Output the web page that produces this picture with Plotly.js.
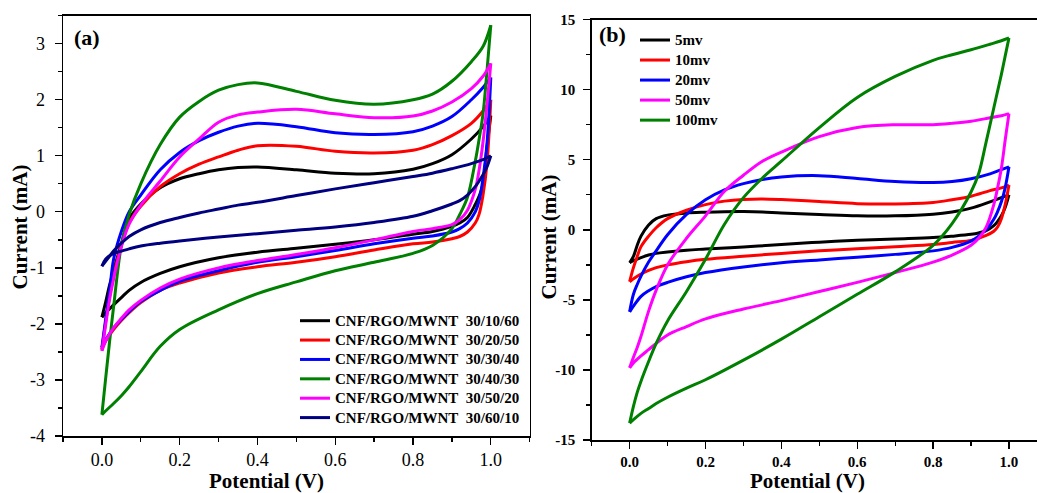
<!DOCTYPE html>
<html><head><meta charset="utf-8">
<script src="https://cdn.plot.ly/plotly-3.0.1.min.js"></script>
<style>html,body{margin:0;padding:0;overflow:hidden;background:#fff}#chart{width:1060px;height:493px}</style>
</head><body><div id="chart"></div>
<script>
// Potential grids (V): forward sweep 0 -> 1 V, reverse sweep 1 -> 0 V
const potentialFwd = [0, 0.01, 0.02, 0.03, 0.05, 0.07, 0.1, 0.15, 0.2, 0.25, 0.3, 0.35, 0.4, 0.5, 0.6, 0.7, 0.8, 0.85, 0.9, 0.95, 0.98, 1.0];
const potentialRev = [1.0, 0.99, 0.98, 0.97, 0.96, 0.94, 0.92, 0.9, 0.85, 0.8, 0.7, 0.6, 0.5, 0.4, 0.3, 0.2, 0.15, 0.1, 0.07, 0.05, 0.03, 0.01, 0];

// Panel (a): composition series (current, mA)
const namesA = ["CNF/RGO/MWNT\u00a0 30/10/60", "CNF/RGO/MWNT\u00a0 30/20/50", "CNF/RGO/MWNT\u00a0 30/30/40",
                "CNF/RGO/MWNT\u00a0 30/40/30", "CNF/RGO/MWNT\u00a0 30/50/20", "CNF/RGO/MWNT\u00a0 30/60/10"];
const fwd301060 = [-1.88,-1.6,-1.3,-1.05,-0.57,-0.13,0.14,0.43,0.59,0.68,0.75,0.79,0.80,0.75,0.69,0.68,0.76,0.86,1.02,1.3,1.52,1.72];
const rev301060 = [1.72,1.15,0.5,0.28,0.13,-0.1,-0.2,-0.26,-0.35,-0.4,-0.5,-0.58,-0.65,-0.72,-0.82,-0.98,-1.1,-1.26,-1.4,-1.53,-1.66,-1.8,-1.88];
const fwd302050 = [-2.45,-1.95,-1.5,-1.15,-0.6,-0.2,0.1,0.45,0.68,0.85,0.98,1.1,1.18,1.17,1.08,1.05,1.1,1.2,1.36,1.58,1.8,2.0];
const rev302050 = [2.0,0.85,0.3,-0.04,-0.2,-0.36,-0.44,-0.48,-0.54,-0.57,-0.68,-0.8,-0.9,-0.98,-1.09,-1.27,-1.4,-1.62,-1.8,-1.94,-2.1,-2.3,-2.45];
const fwd303040 = [-2.42,-1.9,-1.4,-0.85,-0.35,0.0,0.3,0.75,1.06,1.27,1.42,1.53,1.58,1.52,1.41,1.38,1.43,1.53,1.7,2.0,2.22,2.4];
const rev303040 = [2.4,1.2,0.6,0.2,0.0,-0.2,-0.3,-0.36,-0.43,-0.47,-0.57,-0.69,-0.8,-0.9,-1.05,-1.24,-1.4,-1.6,-1.78,-1.92,-2.07,-2.28,-2.42];
const fwd304030 = [-3.62,-2.95,-2.3,-1.7,-0.6,-0.05,0.5,1.2,1.69,1.97,2.17,2.27,2.3,2.15,1.99,1.92,2.0,2.1,2.33,2.68,2.95,3.33];
const rev304030 = [3.33,2.5,1.75,1.3,0.9,0.26,-0.05,-0.3,-0.6,-0.74,-0.9,-1.05,-1.25,-1.46,-1.75,-2.1,-2.4,-2.85,-3.12,-3.28,-3.42,-3.55,-3.62];
const fwd305020 = [-2.48,-2.0,-1.55,-1.2,-0.62,-0.22,0.12,0.55,0.98,1.3,1.6,1.73,1.78,1.83,1.75,1.68,1.71,1.8,1.96,2.2,2.42,2.65];
const rev305020 = [2.65,1.9,1.25,0.75,0.4,0.03,-0.14,-0.23,-0.3,-0.35,-0.5,-0.64,-0.76,-0.87,-1.0,-1.2,-1.36,-1.58,-1.75,-1.9,-2.07,-2.3,-2.48];
const fwd306010 = [-0.97,-0.88,-0.79,-0.7,-0.56,-0.44,-0.32,-0.19,-0.1,-0.02,0.05,0.12,0.17,0.29,0.41,0.52,0.63,0.69,0.77,0.86,0.93,1.0];
const rev306010 = [1.0,0.8,0.66,0.55,0.45,0.3,0.2,0.14,0.02,-0.08,-0.19,-0.27,-0.33,-0.39,-0.45,-0.52,-0.56,-0.61,-0.66,-0.7,-0.74,-0.84,-0.97];

// Panel (b): scan-rate series (current, mA)
const namesB = ["5mv", "10mv", "20mv", "50mv", "100mv"];
const fwd5mv   = [-2.35,-1.9,-1.1,-0.45,0.35,0.8,1.05,1.2,1.26,1.3,1.31,1.28,1.2,1.1,1.0,1.0,1.12,1.28,1.55,2.0,2.3,2.5];
const rev5mv   = [2.5,1.6,1.0,0.6,0.3,-0.05,-0.22,-0.32,-0.45,-0.55,-0.65,-0.75,-0.88,-1.05,-1.22,-1.37,-1.45,-1.58,-1.68,-1.8,-1.98,-2.2,-2.35];
const fwd10mv  = [-3.7,-2.7,-1.9,-1.2,-0.45,0.15,0.8,1.4,1.8,2.05,2.17,2.2,2.16,2.02,1.87,1.85,1.95,2.15,2.4,2.8,3.0,3.2];
const rev10mv  = [3.2,1.8,0.8,0.2,-0.1,-0.4,-0.6,-0.75,-0.9,-1.05,-1.2,-1.35,-1.5,-1.68,-1.88,-2.1,-2.27,-2.5,-2.7,-2.9,-3.15,-3.5,-3.7];
const fwd20mv  = [-5.85,-4.6,-3.9,-3.3,-2.3,-1.5,-0.35,1.1,2.15,2.85,3.3,3.6,3.78,3.87,3.67,3.45,3.38,3.45,3.65,4.0,4.3,4.5];
const rev20mv  = [4.5,3.0,2.0,1.3,0.75,0.0,-0.45,-0.8,-1.25,-1.5,-1.75,-1.95,-2.15,-2.35,-2.65,-3.05,-3.35,-3.75,-4.05,-4.35,-4.75,-5.45,-5.85];
const fwd50mv  = [-9.85,-9.1,-8.4,-7.6,-5.8,-4.3,-2.5,-0.6,1.0,2.75,3.9,4.9,5.55,6.65,7.3,7.5,7.5,7.6,7.75,8.0,8.15,8.3];
const rev50mv  = [8.3,6.4,4.4,3.0,1.8,0.2,-0.6,-1.1,-1.8,-2.3,-3.05,-3.75,-4.4,-5.05,-5.65,-6.35,-6.9,-7.5,-8.1,-8.55,-9.0,-9.5,-9.85];
const fwd100mv = [-13.8,-12.6,-11.6,-10.8,-9.4,-8.1,-6.5,-4.4,-2.1,0.4,2.3,3.7,4.9,7.3,9.45,10.95,12.1,12.5,12.85,13.25,13.5,13.7];
const rev100mv = [13.7,12.4,11.1,9.9,8.7,6.3,4.0,2.7,0.45,-1.1,-3.0,-4.6,-6.2,-7.8,-9.3,-10.7,-11.3,-11.95,-12.4,-12.75,-13.1,-13.55,-13.8];

// Tick labels
const tickValsA = [-4,-3,-2,-1,0,1,2,3];
const tickTextA = ["-4","-3","-2","-1","0","1","2","3"];
const tickValsB = [-15,-10,-5,0,5,10,15];
const tickTextB = ["-15","-10","-5","0","5","10","15"];

const seriesA = [[fwd301060,rev301060],[fwd302050,rev302050],[fwd303040,rev303040],[fwd304030,rev304030],[fwd305020,rev305020],[fwd306010,rev306010]];
const seriesB = [[fwd5mv,rev5mv],[fwd10mv,rev10mv],[fwd20mv,rev20mv],[fwd50mv,rev50mv],[fwd100mv,rev100mv]];
const colorsA = ['#000000','#ff0000','#0000ff','#008000','#ff00ff','#000080'];
const colorsB = ['#000000','#ff0000','#0000ff','#ff00ff','#008000'];

const W = 1060, H = 493;
const PX = v => v / W;
const PY = v => (H - v) / H;
const FONT = "Liberation Serif, 'Times New Roman', Times, serif";

const traces = [];
function addSeries(series, names, colors, xa, ya, leg, prefix) {
  series.forEach((s, i) => {
    const line = {color: colors[i], width: 3, shape: 'spline', smoothing: 1.0};
    const label = '<span style="font-size:15px">' + names[i] + '</span>';
    traces.push({x: potentialFwd, y: s[0], xaxis: xa, yaxis: ya, mode: 'lines', name: label,
                 legend: leg, legendgroup: prefix + i, line: line, hoverinfo: 'skip'});
    traces.push({x: potentialRev, y: s[1], xaxis: xa, yaxis: ya, mode: 'lines', name: label,
                 legend: leg, legendgroup: prefix + i, showlegend: false, line: line, hoverinfo: 'skip'});
  });
}
addSeries(seriesA, namesA, colorsA, 'x', 'y', 'legend', 'a');
addSeries(seriesB, namesB, colorsB, 'x2', 'y2', 'legend2', 'b');

const baseAxis = {showgrid: false, zeroline: false, showline: true, linecolor: '#000', linewidth: 1.5,
                  mirror: true, ticks: 'outside', ticklen: 7, tickwidth: 1.3, tickcolor: '#000'};
const innerAxis = {showgrid: false, zeroline: false, showline: false, ticks: 'inside', ticklen: 5,
                   tickwidth: 1.2, tickcolor: '#000', showticklabels: false};

const layout = {
  width: W, height: H,
  margin: {l: 0, r: 0, t: 0, b: 0},
  paper_bgcolor: '#fff', plot_bgcolor: '#fff',
  font: {family: FONT, color: '#000'},
  showlegend: true,
  xaxis: Object.assign({}, baseAxis, {
    domain: [PX(63), PX(529.7)], range: [-0.1, 1.1], anchor: 'y',
    tickmode: 'linear', tick0: 0, dtick: 0.2, tickformat: '.1f',
    tickfont: {size: 18, family: FONT}, ticklabelstandoff: 0,
    minor: {dtick: 0.1, tick0: 0, ticks: 'outside', ticklen: 4, tickwidth: 1.3, tickcolor: '#000', showgrid: false}
  }),
  yaxis: Object.assign({}, baseAxis, {
    domain: [PY(436), PY(15.7)], range: [-4, 3.5], anchor: 'x',
    tickmode: 'array', tickvals: tickValsA, ticktext: tickTextA,
    tickfont: {size: 18, family: FONT}, ticklabelstandoff: 6,
    minor: {dtick: 0.5, tick0: 0, ticks: 'outside', ticklen: 4, tickwidth: 1.3, tickcolor: '#000', showgrid: false}
  }),
  xaxis3: Object.assign({}, innerAxis, {
    overlaying: 'x', side: 'top', anchor: 'y', range: [-0.1, 1.1], tickmode: 'linear', tick0: 0, dtick: 0.2,
    minor: {dtick: 0.1, tick0: 0, ticks: 'inside', ticklen: 3, tickcolor: '#000', showgrid: false}
  }),
  yaxis3: Object.assign({}, innerAxis, {
    overlaying: 'y', side: 'right', anchor: 'x', range: [-4, 3.5], tickmode: 'linear', tick0: 0, dtick: 1,
    minor: {dtick: 0.5, tick0: 0, ticks: 'inside', ticklen: 3, tickcolor: '#000', showgrid: false}
  }),
  xaxis2: Object.assign({}, baseAxis, {
    domain: [PX(591.7), PX(1046.9)], range: [-0.1, 1.1], anchor: 'y2',
    tickmode: 'linear', tick0: 0, dtick: 0.2, tickformat: '.1f',
    tickfont: {size: 15, family: FONT, weight: 'bold'}, ticklabelstandoff: 0,
    minor: {dtick: 0.1, tick0: 0, ticks: 'outside', ticklen: 4, tickwidth: 1.3, tickcolor: '#000', showgrid: false}
  }),
  yaxis2: Object.assign({}, baseAxis, {
    domain: [PY(440), PY(19.7)], range: [-15, 15], anchor: 'x2',
    tickmode: 'array', tickvals: tickValsB, ticktext: tickTextB,
    tickfont: {size: 15, family: FONT, weight: 'bold'}, ticklabelstandoff: 5,
    minor: {dtick: 2.5, tick0: 0, ticks: 'outside', ticklen: 4, tickwidth: 1.3, tickcolor: '#000', showgrid: false}
  }),
  xaxis4: Object.assign({}, innerAxis, {
    overlaying: 'x2', side: 'top', anchor: 'y2', range: [-0.1, 1.1], tickmode: 'linear', tick0: 0, dtick: 0.2,
    minor: {dtick: 0.1, tick0: 0, ticks: 'inside', ticklen: 3, tickcolor: '#000', showgrid: false}
  }),
  legend: {x: PX(295), y: PY(306), xanchor: 'left', yanchor: 'top', bgcolor: 'rgba(0,0,0,0)',
           borderwidth: 0, traceorder: 'normal', font: {size: 12.6, family: FONT, weight: 'bold'}},
  legend2: {x: PX(635), y: PY(25), xanchor: 'left', yanchor: 'top', bgcolor: 'rgba(0,0,0,0)',
            borderwidth: 0, traceorder: 'normal', font: {size: 13.1, family: FONT, weight: 'bold'}},
  annotations: [
    {text: '(a)', xref: 'paper', yref: 'paper', x: PX(86.5), y: PY(37), xanchor: 'center', yanchor: 'middle',
     showarrow: false, font: {size: 22, family: FONT, weight: 'bold'}},
    {text: '(b)', xref: 'paper', yref: 'paper', x: PX(612.5), y: PY(35), xanchor: 'center', yanchor: 'middle',
     showarrow: false, font: {size: 22, family: FONT, weight: 'bold'}},
    {text: 'Potential (V)', xref: 'paper', yref: 'paper', x: PX(266), y: PY(480.5), xanchor: 'center', yanchor: 'middle',
     showarrow: false, font: {size: 21, family: FONT, weight: 'bold'}},
    {text: 'Potential (V)', xref: 'paper', yref: 'paper', x: PX(807.5), y: PY(480.5), xanchor: 'center', yanchor: 'middle',
     showarrow: false, font: {size: 21, family: FONT, weight: 'bold'}},
    {text: 'Current (mA)', xref: 'paper', yref: 'paper', x: PX(19), y: PY(227.5), xanchor: 'center', yanchor: 'middle',
     textangle: -90, showarrow: false, font: {size: 21, family: FONT, weight: 'bold'}},
    {text: 'Current (mA)', xref: 'paper', yref: 'paper', x: PX(548), y: PY(237.5), xanchor: 'center', yanchor: 'middle',
     textangle: -90, showarrow: false, font: {size: 21, family: FONT, weight: 'bold'}}
  ]
};

Plotly.newPlot('chart', traces, layout, {displayModeBar: false, staticPlot: true});
</script>
</body></html>
